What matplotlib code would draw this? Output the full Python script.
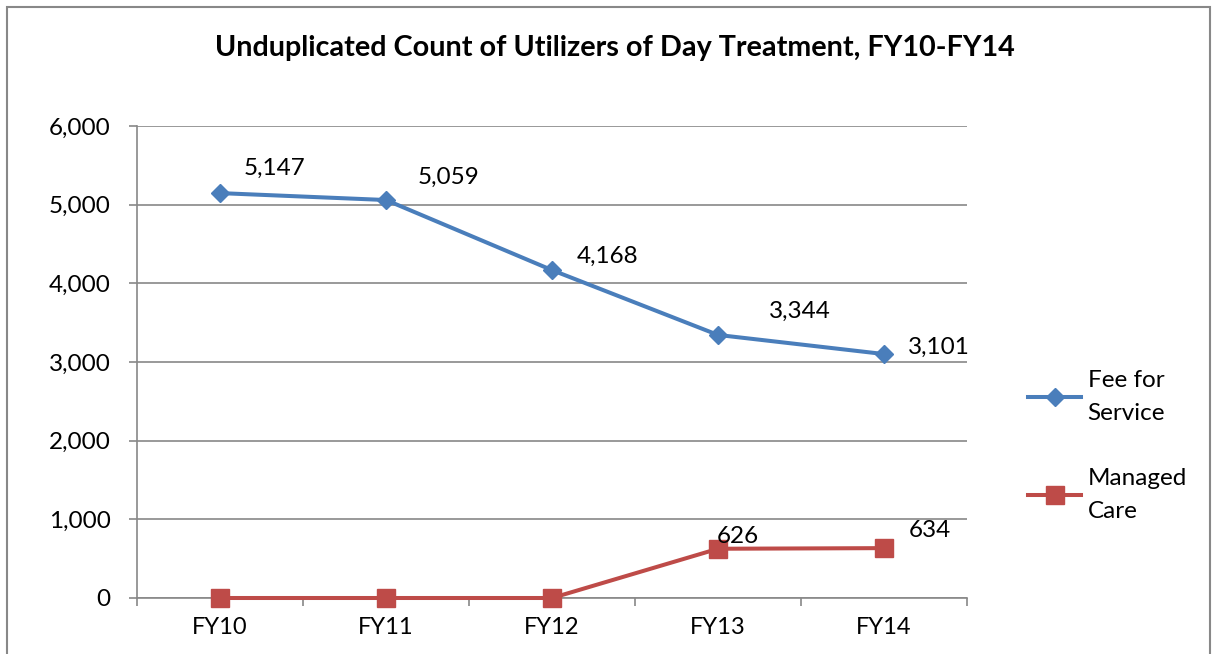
import matplotlib.pyplot as plt
from matplotlib.patches import Rectangle
from matplotlib.ticker import FuncFormatter, MultipleLocator

plt.rcParams['font.family'] = ['Lato', 'DejaVu Sans']

years = ['FY10', 'FY11', 'FY12', 'FY13', 'FY14']
fee_for_service = [5147, 5059, 4168, 3344, 3101]
managed_care = [0, 0, 0, 626, 634]

# label offsets in points (dx, dy), tuned to the reference
ffs_offsets = [(17, 18), (23, 16), (18, 10), (37, 17), (17, 5)]
mc_offsets = [(None, None), (None, None), (None, None), (-1, 9), (18, 13)]

blue = '#4a7ebb'
red = '#be4b48'
grey = '#888888'
fs = 17.5

fig = plt.figure(figsize=(12.17, 6.54), dpi=100)
ax = fig.add_axes([137 / 1217, 1 - 598 / 654, 830 / 1217, 472 / 654])

x = list(range(len(years)))
ax.plot(x, fee_for_service, color=blue, lw=2.9, marker='D', ms=9,
        markeredgecolor=blue, label='Fee for\nService', zorder=3, clip_on=False)
ax.plot(x, managed_care, color=red, lw=2.9, marker='s', ms=12.5,
        markeredgecolor=red, label='Managed\nCare', zorder=3, clip_on=False)

for xi, v, (dx, dy) in zip(x, fee_for_service, ffs_offsets):
    ax.annotate(f'{v:,}', (xi, v), xytext=(dx, dy), textcoords='offset points',
                ha='left', va='center', fontsize=fs)
for xi, v, (dx, dy) in zip(x, managed_care, mc_offsets):
    if dx is None:
        continue
    ax.annotate(f'{v:,}', (xi, v), xytext=(dx, dy), textcoords='offset points',
                ha='left', va='center', fontsize=fs)

ax.set_xlim(-0.5, len(years) - 0.5)
ax.set_ylim(0, 6000)
ax.yaxis.set_major_locator(MultipleLocator(1000))
ax.yaxis.set_major_formatter(FuncFormatter(lambda v, p: f'{int(v):,}'))
ax.set_xticks(x)
ax.set_xticklabels(years)
ax.set_xticks([i - 0.5 for i in range(len(years) + 1)], minor=True)
ax.tick_params(axis='x', which='major', length=0, pad=14, labelsize=fs - 0.5)
ax.tick_params(axis='x', which='minor', length=6, width=1.2, color=grey, direction='out')
ax.tick_params(axis='y', length=6, width=1.2, color=grey, direction='out', pad=13, labelsize=fs)
ax.grid(axis='y', color=grey, lw=1.2)
ax.set_axisbelow(True)
for side in ['top', 'right']:
    ax.spines[side].set_visible(False)
for side in ['left', 'bottom']:
    ax.spines[side].set_color(grey)
    ax.spines[side].set_linewidth(1.2)

fig.text(615 / 1217, 1 - 48 / 654, 'Unduplicated Count of Utilizers of Day Treatment, FY10-FY14',
         ha='center', va='center', fontsize=20.7, fontweight='bold')

leg = fig.legend(loc='upper left', bbox_to_anchor=(1028 / 1217, 1 - 370 / 654),
                 frameon=False, fontsize=fs, handlelength=2.2, handletextpad=0.25,
                 labelspacing=1.8, borderpad=0, borderaxespad=0)
for t in leg.get_texts():
    t.set_linespacing(1.72)

fig.patches.append(Rectangle((7 / 1217, -0.05), 1203 / 1217, 1 - 7 / 654 + 0.05,
                             transform=fig.transFigure, fill=False,
                             edgecolor=grey, lw=1.5))

fig.savefig('out.png', dpi=100)
